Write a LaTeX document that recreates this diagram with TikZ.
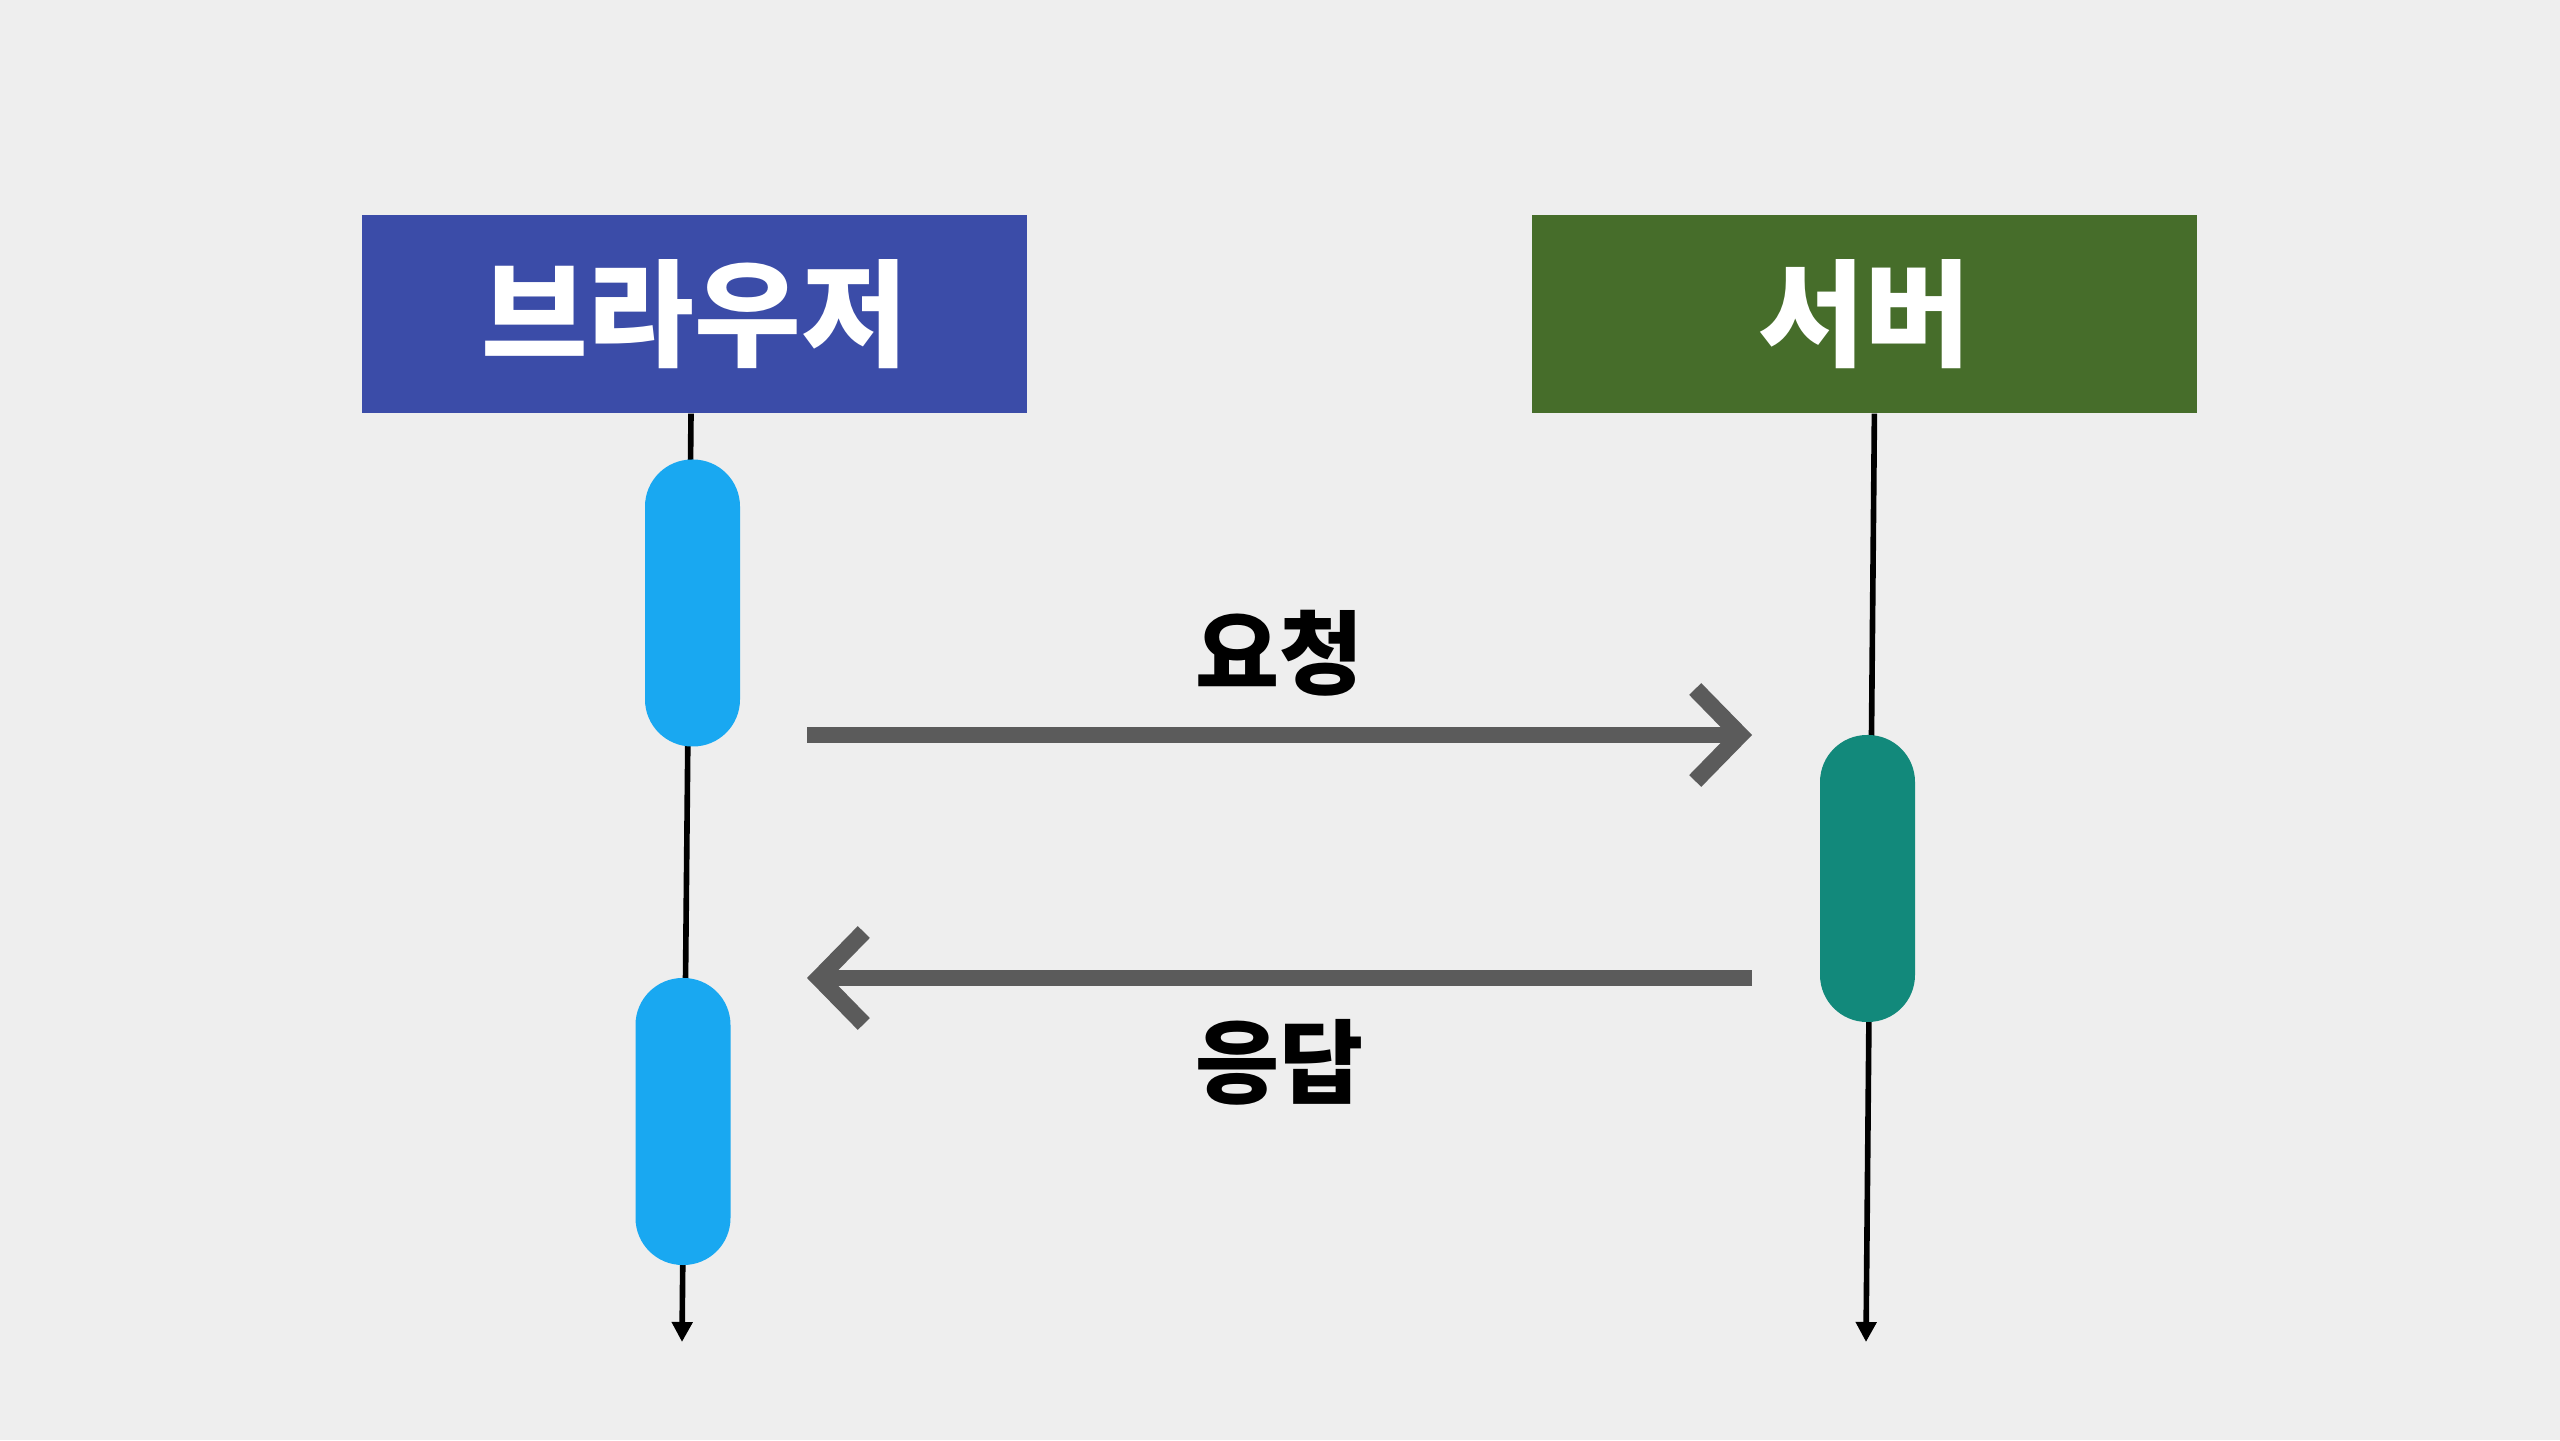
\documentclass[tikz,border=0pt]{standalone}
\usepackage{fontspec}
\setmainfont{Noto Sans CJK KR}
\usetikzlibrary{positioning, arrows.meta}

\definecolor{bgGray}{HTML}{EEEEEE}
\definecolor{browserBlue}{HTML}{3B4CA8}
\definecolor{serverGreen}{HTML}{466D2A}
\definecolor{callBlue}{HTML}{19A8F1}
\definecolor{replyTeal}{HTML}{12897B}
\definecolor{msgGray}{HTML}{5B5B5B}

\begin{document}
\begin{tikzpicture}[
    actor/.style={rectangle, minimum width=6.65cm, minimum height=1.98cm, text=white, font=\fontsize{33}{40}\selectfont\bfseries},
    activation/.style={rectangle, rounded corners=0.47cm, minimum width=0.95cm, minimum height=2.87cm, inner sep=0pt},
    lifeline/.style={-{Triangle[length=0.2cm, width=0.2cm]}, line width=1.6pt, black},
    message/.style={-{Straight Barb[length=0.45cm, width=0.92cm]}, line width=4.8pt, msgGray},
    msglabel/.style={text=black, font=\fontsize{26}{30}\selectfont\bfseries}
]

% background
\fill[bgGray] (0,0) rectangle (25.6,14.4);

% --- Participants ---
\node[actor, fill=browserBlue] (browser) at (6.945,11.26) {브라우저};
\node[actor, fill=serverGreen, right=5.04cm of browser] (server) {서버};

% --- Lifelines ---
\coordinate (browserEnd) at (6.82,0.98);
\coordinate (serverEnd) at (18.66,0.98);
\draw[lifeline] ([xshift=-0.035cm]browser.south) -- (browserEnd);
\draw[lifeline] ([xshift=0.095cm]server.south) -- (serverEnd);

% --- Activations ---
\node[activation, fill=callBlue] (send) at (6.925,8.37) {};
\node[activation, fill=replyTeal] (handle) at (18.675,5.615) {};
\node[activation, fill=callBlue] (receive) at (6.83,3.185) {};

% --- Messages ---
\coordinate (reqStart) at (8.07,7.05);
\coordinate (reqEnd) at (17.52,7.05);
\coordinate (resStart) at (17.52,4.62);
\coordinate (resEnd) at (8.07,4.62);

\draw[message] (reqStart) -- node[msglabel, yshift=0.82cm] (reqLabel) {요청} (reqEnd);
\draw[message] (resStart) -- node[msglabel, yshift=-0.84cm] (resLabel) {응답} (resEnd);

\end{tikzpicture}
\end{document}
